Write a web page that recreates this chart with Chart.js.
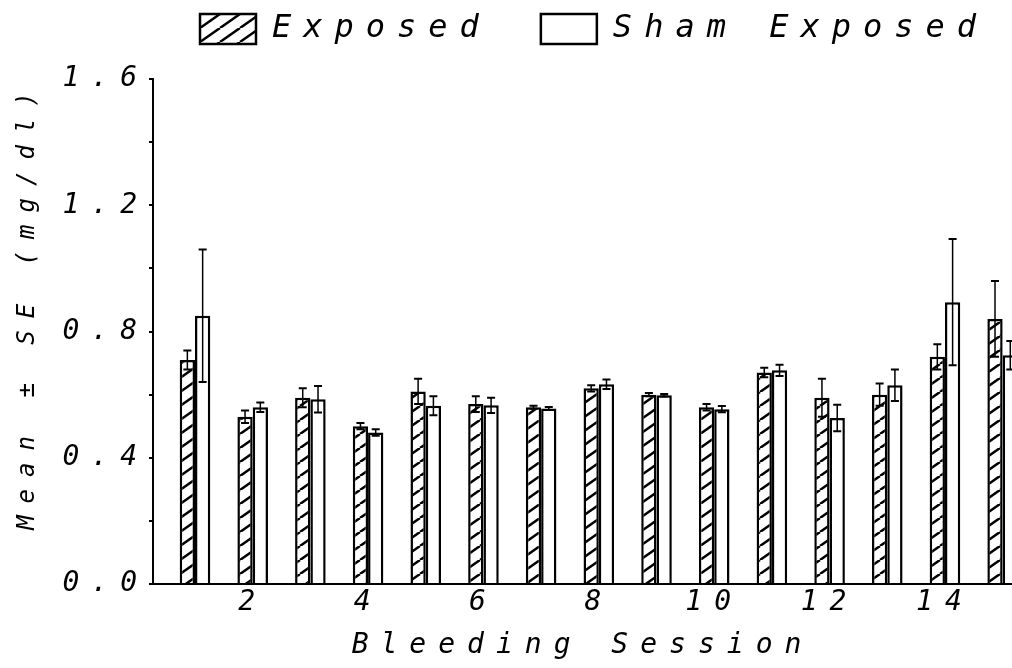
<!DOCTYPE html>
<html>
<head>
<meta charset="utf-8">
<script src="https://cdn.jsdelivr.net/npm/chart.js@4"></script>
<style>
  html, body { margin: 0; padding: 0; background: #fff; }
  #wrap { width: 1012px; height: 668px; }
</style>
</head>
<body>
<div id="wrap"><canvas id="chart" width="1012" height="668"></canvas></div>
<script>
// values (mg/dl)
const sessions = [1, 2, 3, 4, 5, 6, 7, 8, 9, 10, 11, 12, 13, 14, 15];
const exposedMean = [0.71, 0.53, 0.59, 0.50, 0.61, 0.57, 0.56, 0.62, 0.60, 0.56, 0.67, 0.59, 0.60, 0.72, 0.84];
const exposedSE   = [0.03, 0.02, 0.03, 0.01, 0.04, 0.025, 0.005, 0.01, 0.005, 0.01, 0.015, 0.06, 0.035, 0.04, 0.12];
const shamMean    = [0.85, 0.56, 0.585, 0.48, 0.565, 0.566, 0.556, 0.633, 0.598, 0.554, 0.677, 0.526, 0.63, 0.893, 0.725];
const shamSE      = [0.21, 0.015, 0.042, 0.01, 0.03, 0.024, 0.005, 0.015, 0.004, 0.01, 0.018, 0.042, 0.05, 0.2, 0.045];
const xTickValues = [2, 4, 6, 8, 10, 12, 14];
const yTickValues = [0, 0.4, 0.8, 1.2, 1.6];
const yTickLabels = ['0.0', '0.4', '0.8', '1.2', '1.6'];

const FONT_FAMILY = "'DejaVu Sans Mono', monospace";
const LETTER_SPACING = '12px';
const Y_AXIS_WIDTH = 153;
const X_AXIS_HEIGHT = 84;
const LEGEND_LEFT = 200;
const LEGEND_TOP = 13;

function makeHatch() {
  const c = document.createElement('canvas');
  const w = 20, h = 14;
  c.width = w; c.height = h;
  const g = c.getContext('2d');
  g.fillStyle = '#fff';
  g.fillRect(0, 0, w, h);
  g.strokeStyle = '#000';
  g.lineWidth = 2.5;
  for (const dx of [-w, 0, w]) {
    g.beginPath();
    g.moveTo(dx, h);
    g.lineTo(dx + w, 0);
    g.stroke();
  }
  return g.createPattern(c, 'repeat');
}

// plotter lettering is widely spaced
const spacing = {
  id: 'spacing',
  beforeUpdate(chart) { chart.ctx.letterSpacing = LETTER_SPACING; },
  beforeLayout(chart) { chart.ctx.letterSpacing = LETTER_SPACING; },
  beforeDraw(chart) { chart.ctx.letterSpacing = LETTER_SPACING; }
};

// move the legend block; its bottom edge stays so the clip box still covers it
const legendPlace = {
  id: 'legendPlace',
  afterLayout(chart) {
    const lg = chart.legend;
    if (!lg) return;
    const pad = lg.options.labels.padding;
    const dx = LEGEND_LEFT - (lg.left + pad);
    const dy = LEGEND_TOP - (lg.top + pad);
    lg.left += dx; lg.right += dx;
    lg.top += dy;
  }
};

const errorBars = {
  id: 'errorBars',
  afterDatasetsDraw(chart) {
    const ctx = chart.ctx;
    const yScale = chart.scales.y;
    ctx.save();
    ctx.strokeStyle = '#000';
    chart.data.datasets.forEach((ds, i) => {
      const meta = chart.getDatasetMeta(i);
      meta.data.forEach((bar, j) => {
        const m = ds.data[j].y, se = ds.errors[j];
        const top = yScale.getPixelForValue(m + se);
        const bot = yScale.getPixelForValue(m - se);
        ctx.lineWidth = 1.5;
        ctx.beginPath();
        ctx.moveTo(bar.x, bot); ctx.lineTo(bar.x, top);
        ctx.stroke();
        ctx.lineWidth = 2;
        ctx.beginPath();
        ctx.moveTo(bar.x - 4, top); ctx.lineTo(bar.x + 4, top);
        ctx.moveTo(bar.x - 4, bot); ctx.lineTo(bar.x + 4, bot);
        ctx.stroke();
      });
    });
    ctx.restore();
  }
};

const hatch = makeHatch();
const tickFont = { family: FONT_FAMILY, size: 28, style: 'italic' };

new Chart(document.getElementById('chart'), {
  type: 'bar',
  data: {
    datasets: [
      {
        label: 'Exposed',
        data: sessions.map((s, i) => ({ x: s, y: exposedMean[i] })),
        errors: exposedSE,
        backgroundColor: hatch,
        borderColor: '#000',
        borderWidth: 2.5,
        categoryPercentage: 0.53,
        barPercentage: 1
      },
      {
        label: 'Sham Exposed',
        data: sessions.map((s, i) => ({ x: s, y: shamMean[i] })),
        errors: shamSE,
        backgroundColor: '#fff',
        borderColor: '#000',
        borderWidth: 2.5,
        categoryPercentage: 0.53,
        barPercentage: 1
      }
    ]
  },
  options: {
    responsive: false,
    animation: false,
    devicePixelRatio: 1,
    layout: { padding: 0 },
    plugins: {
      tooltip: { enabled: false },
      legend: {
        position: 'top',
        align: 'start',
        maxHeight: 79,
        labels: {
          color: '#000',
          font: { family: FONT_FAMILY, size: 32, style: 'italic' },
          boxWidth: 56,
          boxHeight: 30,
          padding: 50
        }
      }
    },
    scales: {
      x: {
        type: 'linear',
        min: 0.272,
        max: 15.162,
        offset: false,
        afterFit(scale) { scale.height = X_AXIS_HEIGHT; },
        afterBuildTicks(scale) { scale.ticks = xTickValues.map(v => ({ value: v })); },
        border: { display: true, color: '#000', width: 2 },
        grid: { display: false, drawTicks: false },
        ticks: {
          padding: 2, autoSkip: false, maxRotation: 0, color: '#000', font: tickFont,
          callback: v => String(v)
        },
        title: {
          display: true, text: 'Bleeding Session', color: '#000',
          font: { family: FONT_FAMILY, size: 28, style: 'italic' },
          padding: { top: 0, bottom: 5 }
        }
      },
      y: {
        min: 0,
        max: 1.6,
        afterFit(scale) { scale.width = Y_AXIS_WIDTH; },
        border: { display: true, color: '#000', width: 2 },
        grid: { display: true, drawOnChartArea: false, drawTicks: true, tickLength: 4, color: '#000', lineWidth: 2 },
        ticks: {
          stepSize: 0.2, padding: 0, color: '#000', font: tickFont,
          callback: v => {
            const k = yTickValues.findIndex(t => Math.abs(t - v) < 1e-6);
            return k >= 0 ? yTickLabels[k] : '';
          }
        },
        title: {
          display: true, text: '  Mean \u00b1 SE (mg/dl)', color: '#000',
          font: { family: FONT_FAMILY, size: 24, style: 'italic' },
          padding: { top: 13, bottom: 0 }
        }
      }
    }
  },
  plugins: [spacing, legendPlace, errorBars]
});
</script>
</body>
</html>
